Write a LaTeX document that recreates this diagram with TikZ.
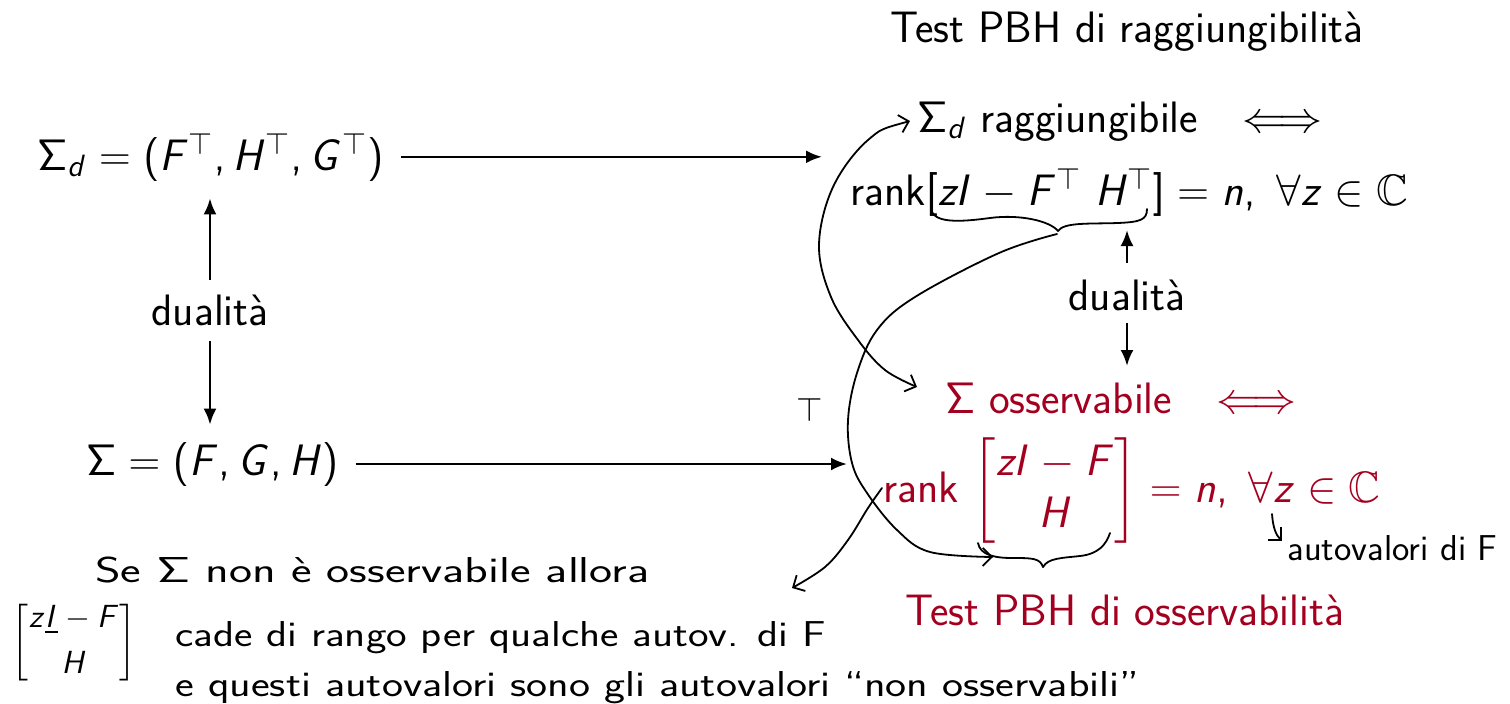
\RequirePackage{fix-cm}
\documentclass[tikz,border=0pt]{standalone}
\usepackage[no-math]{fontspec}
\usepackage{amsmath,amssymb}
\usepackage{graphicx}
\usetikzlibrary{arrows.meta}
\SetSymbolFont{operators}{normal}{OT1}{cmss}{m}{n}
\SetSymbolFont{letters}{normal}{OT1}{cmss}{m}{sl}
\mathcode`\,="602C
\definecolor{bred}{RGB}{163,0,32}
\begin{document}
\begin{tikzpicture}[x=0.5pt,y=-0.5pt,
  every node/.style={inner sep=0pt, font=\fontsize{22}{26.4}\selectfont\sffamily},
  tx/.style={anchor=base west},
  arr/.style={line width=1.3pt, -{Latex[length=8pt,width=6.5pt]}},
  hand/.style={line width=0.9pt, line cap=round, line join=round},
  barb/.tip={Straight Barb[length=4.5pt,width=9pt]},
  harr/.style={hand, -barb},
  hw/.style={anchor=base west, font=\fontsize{18}{21}\selectfont\sffamily},
]
\useasboundingbox (0,0) rectangle (1510,703);

% titles and formulas
\node[tx] (title) at (890,42) {Test PBH di raggiungibilità};
\node[tx] (sd) at (37,170) {$\Sigma_d = (F^\top, H^\top, G^\top)$};
\node[tx] (s) at (86,475) {$\Sigma = (F, G, H)$};
\node[anchor=base] (dl) at (210,325) {dualità};
\node[tx] (rg) at (917,132) {$\Sigma_d$ raggiungibile\quad$\Longleftrightarrow$};
\node[tx] (rk) at (850,205) {rank$[zI - F^\top\ H^\top] = n,\ \forall z \in \mathbb{C}$};
\node[anchor=base] (dr) at (1127,310) {dualità};
\node[tx, text=bred] (so) at (945,413) {$\Sigma$ osservabile\quad$\Longleftrightarrow$};
\node[tx, text=bred] (ro) at (883,502) {rank $\begin{bmatrix} zI - F\\ H\end{bmatrix} = n,\ \forall z \in \mathbb{C}$};
\node[tx, text=bred] (tpo) at (905,625) {Test PBH di osservabilità};

% free ends
\coordinate (e1) at (822,0);
\coordinate (e2) at (847,0);
\coordinate (u1) at (0,230);
\coordinate (d1) at (0,366);

% straight arrows
\draw[arr, shorten <=8.5pt] (sd.east) -- (sd.east -| e1);
\draw[arr, shorten <=8.5pt] (s.east) -- (s.east -| e2);
\draw[arr, shorten <=7pt, shorten >=8.5pt] (dl.north) -- (dl.north |- sd.south);
\draw[arr, shorten <=7.5pt, shorten >=8.5pt] (dl.south) -- (dl.south |- s.north);
\draw[arr, shorten <=8pt] (dr.north) -- (dr.north |- u1);
\draw[arr, shorten <=6pt] (dr.south) -- (dr.south |- d1);

% handwritten braces
\draw[hand] (931,207) .. controls (931,224) and (960,222) .. (990,218)
  .. controls (1020,214) and (1050,221) .. (1058,231);
\draw[hand] (1058,231) .. controls (1064,222) and (1090,224) .. (1118,223)
  .. controls (1140,222) and (1147,220) .. (1147,209);
\draw[hand] (978,543) .. controls (980,555) and (995,558) .. (1012,558)
  .. controls (1032,558) and (1040,558) .. (1043,567);
\draw[hand] (1043,567) .. controls (1048,558) and (1062,558) .. (1080,556)
  .. controls (1098,554) and (1106,545) .. (1110,533);

% handwritten curves
\draw[hand, barb-barb] plot[smooth, tension=0.6] coordinates
  {(910,121) (868,140) (833,187) (819,245) (831,297) (858,340) (885,370) (917,387)};
\draw[harr] plot[smooth, tension=0.6] coordinates
  {(1057,234) (999,253) (915,297) (877,330) (857,373) (848,420) (852,463) (867,493) (897,530) (930,552) (993,557)};
\draw[harr] plot[smooth, tension=0.6] coordinates
  {(882,488) (868,508) (848,540) (825,567) (792,588)};
\draw[harr] (1272,514) .. controls (1273,528) and (1276,535) .. (1282,541);

% handwritten notes
\node[font=\fontsize{17}{20}\selectfont] (tp) at (810,410) {$\top$};
\node[hw] (h4) at (1287,560) {\resizebox{105pt}{\height}{autovalori di F}};
\node[hw] (h1) at (95,582) {\resizebox{277pt}{\height}{Se $\Sigma$ non è osservabile allora}};
\node[font=\fontsize{16}{19}\selectfont] (hm) at (74,643) {$\begin{bmatrix} z\underline{I} - F\\[4pt] H\end{bmatrix}$};
\node[hw] (h2) at (175,646) {\resizebox{325pt}{\height}{cade di rango per qualche autov. di F}};
\node[hw] (h3) at (175,696) {\resizebox{482pt}{\height}{e questi autovalori sono gli autovalori “non osservabili”}};
\end{tikzpicture}
\end{document}
